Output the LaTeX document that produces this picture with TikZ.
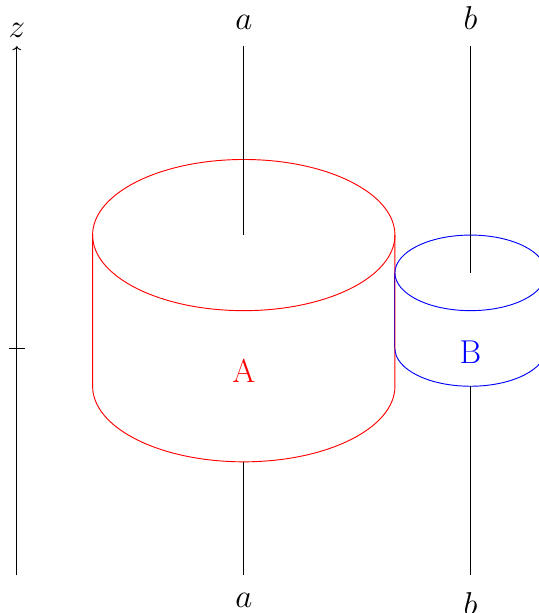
\documentclass[tikz,border=0pt]{standalone}
\usepackage{amsmath}
\usepackage{xcolor}
\usepackage{tikz}
\usetikzlibrary{arrows.meta,calc}

\begin{document}
\begin{tikzpicture}[line width=0.7pt,font=\Huge]
  \useasboundingbox (-0.45,-7) rectangle (13.81,9.22);
  \clip (-0.45,-7) rectangle (13.81,9.22);
  % z axis
  \coordinate (zbot) at (-0.005,-6);
  \node[above,inner sep=6pt] (ztop) at (-0.005,8) {$z$};
  \draw[->] (zbot) -- (ztop);
  \coordinate (tickl) at (-0.2,0);
  \coordinate (tickr) at (0.2,0);
  \draw (tickl) -- (tickr);
  % cylinders
  \draw[red] (6,3) ellipse (4 and 2);
  \draw[red] (2,3) -- (2,-1) arc (180:360:4 and 2) -- (10,3);
  \draw[blue] (12,2) ellipse (2 and 1);
  \draw[blue!65!red] (10,2) -- (10,0);
  \draw[blue] (10,0) arc (180:360:2 and 1) -- (14,2);
  \node[red] (labA) at (6,-0.6) {A};
  \node[blue] (labB) at (12,-0.1) {B};
  % strands
  \node[above,inner sep=12pt] (atop) at (6,8) {$a$};
  \node[above,inner sep=12pt] (btop) at (12,8) {$b$};
  \node[below,inner sep=0pt,yshift=-13pt] (abot) at (6,-6) {$a$};
  \node[below,inner sep=0pt,yshift=-13pt] (bbot) at (12,-6) {$b$};
  \coordinate (ain) at (6,3);
  \coordinate (bin) at (12,2);
  \coordinate (aout) at (6,-3);
  \coordinate (bout) at (12,-1);
  \coordinate (aend) at (6,-6);
  \coordinate (bend) at (12,-6);
  \coordinate (astart) at (6,8);
  \coordinate (bstart) at (12,8);
  \draw (astart) -- (ain);
  \draw (bstart) -- (bin);
  \draw (aout) -- (aend);
  \draw (bout) -- (bend);
\end{tikzpicture}
\end{document}
